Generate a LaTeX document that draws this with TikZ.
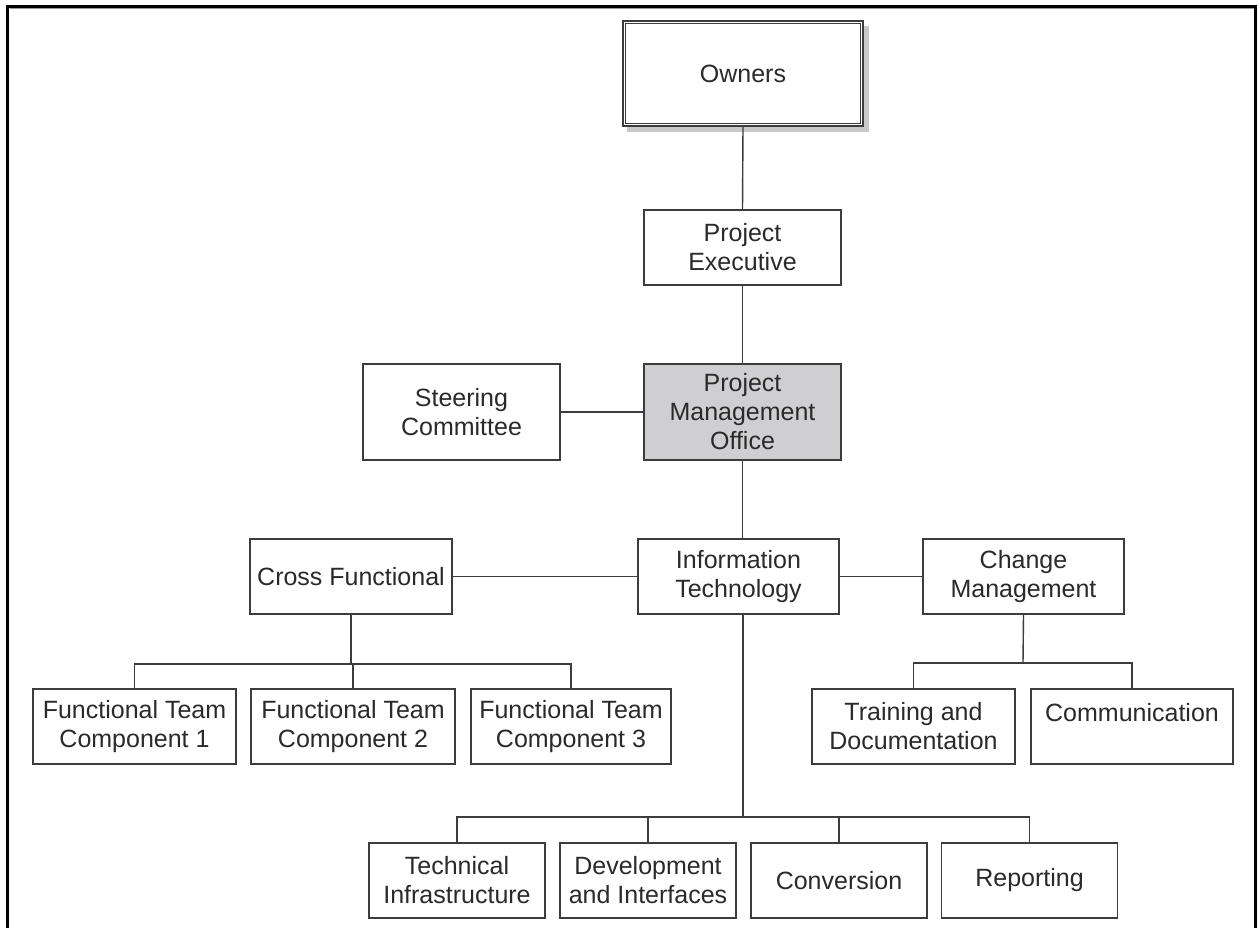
\documentclass[tikz,border=0pt]{standalone}
\usepackage{fontspec}
\setmainfont{Liberation Sans}
\usetikzlibrary{backgrounds}
\definecolor{inkc}{RGB}{42,42,42}
\definecolor{linec}{RGB}{60,60,60}
\definecolor{pmofill}{RGB}{207,207,209}
\definecolor{shadowc}{RGB}{200,200,200}
\tikzset{
  box/.style={draw=linec, line width=1.4pt, fill=white, inner sep=0pt, align=center,
    text=inkc, font=\fontsize{25}{29}\selectfont},
  conn/.style={draw=linec, line width=1.4pt},
}
\begin{document}
\begin{tikzpicture}[x=1pt,y=-1pt]
\useasboundingbox (0,0) rectangle (1259,928);
% outer frame (open at bottom)
\draw[line width=2.6pt, black] (7.5,930) -- (7.5,6.5) -- (1255.5,6.5) -- (1255.5,930);
\draw[line width=1pt, black!40] (9.5,8.8) -- (1253.5,8.8);

% nodes
\node[box, minimum width=240pt, minimum height=105pt] (owners) at (743,73.5) {Owners};
\node[box, minimum width=197pt, minimum height=75pt] (pe) at (742.5,247.5) {Project\\Executive};
\node[box, minimum width=197pt, minimum height=96pt] (steer) at (461.5,412) {Steering\\Committee};
\node[box, fill=pmofill, minimum width=197pt, minimum height=96pt] (pmo) at (742.5,412) {Project\\Management\\Office};
\node[box, minimum width=202pt, minimum height=75pt] (cf) at (351,576.5) {Cross Functional};
\node[box, minimum width=201pt, minimum height=75pt] (it) at (738.5,576.5) {Information\\Technology};
\node[box, minimum width=201pt, minimum height=75pt] (cm) at (1023.5,576.5) {Change\\Management};
\node[box, minimum width=203pt, minimum height=75pt] (ft1) at (134.5,726.5) {Functional Team\\Component 1};
\node[box, minimum width=204pt, minimum height=75pt] (ft2) at (353,726.5) {Functional Team\\Component 2};
\node[box, minimum width=200pt, minimum height=75pt] (ft3) at (571,726.5) {Functional Team\\Component 3};
\node[box, minimum width=203pt, minimum height=75pt] (td) at (913.5,726.5) {Training and\\Documentation};
\node[box, minimum width=202pt, minimum height=75pt] (comm) at (1132,726.5) {Communication\\\mbox{}};
\node[box, minimum width=176pt, minimum height=75pt] (ti) at (457,880.5) {Technical\\Infrastructure};
\node[box, minimum width=176pt, minimum height=75pt] (di) at (648,880.5) {Development\\and Interfaces};
\node[box, minimum width=176pt, minimum height=75pt] (conv) at (839,880.5) {Conversion};
\node[box, minimum width=176pt, minimum height=75pt] (rep) at (1029.5,880.5) {Reporting};

% Owners double border and shadow
\draw[linec, line width=1pt] ([shift={(3,3)}]owners.north west) rectangle ([shift={(-3,-3)}]owners.south east);
\begin{scope}[on background layer]
\fill[shadowc] ([shift={(5,6)}]owners.north west) rectangle ([shift={(5,5)}]owners.south east);
\end{scope}

% bus coordinates
\coordinate (cfbus) at (351,664);
\coordinate (cmbus) at (1023,663);
\coordinate (itbus) at (743,817);

% connectors
\draw[conn] (owners.south) -- (pe.north);
\draw[conn] (pe.south) -- (pmo.north);
\draw[conn] (steer.east) -- (pmo.west);
\draw[conn] (pmo.south) -- (pmo.south |- it.north);
\draw[conn] (cf.east) -- (it.west);
\draw[conn] (it.east) -- (cm.west);
% cross functional branch
\draw[conn] (cf.south) -- (cfbus);
\draw[conn] (ft1.north) |- (cfbus);
\draw[conn] (ft3.north) |- (cfbus);
\draw[conn] (ft2.north) -- (ft2.north |- cfbus);
% change management branch
\draw[conn] (cm.south) -- (cmbus);
\draw[conn] (td.north) |- (cmbus);
\draw[conn] (comm.north) |- (cmbus);
% IT branch
\draw[conn] (itbus |- it.south) -- (itbus);
\draw[conn] (ti.north) |- (itbus);
\draw[conn] (rep.north) |- (itbus);
\draw[conn] (di.north) -- (di.north |- itbus);
\draw[conn] (conv.north) -- (conv.north |- itbus);
\end{tikzpicture}
\end{document}
